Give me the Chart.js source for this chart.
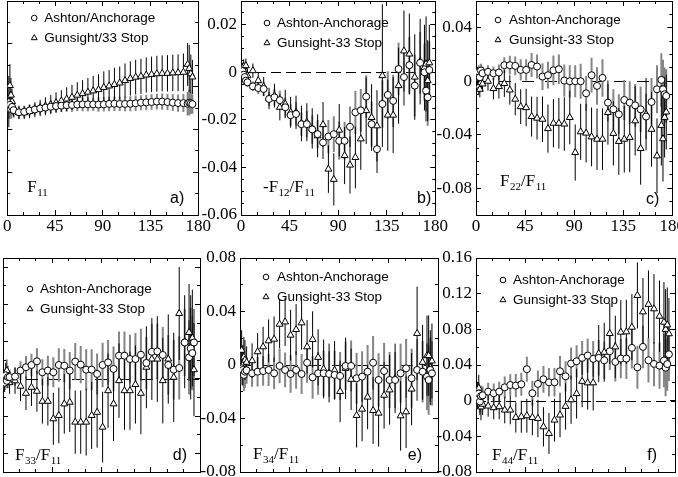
<!DOCTYPE html>
<html>
<head>
<meta charset="utf-8">
<script src="https://cdn.jsdelivr.net/npm/chart.js@4.4.1/dist/chart.umd.min.js"></script>
<style>
  html, body { margin: 0; padding: 0; background: #fff; }
  body { position: relative; width: 678px; height: 477px; overflow: hidden; }
  canvas { position: absolute; }
</style>
</head>
<body>
<script>
// scattering angles (deg), same for every panel
const angles = [1.5, 2.5, 3.5, 4.5,
  6, 11, 16, 21, 26, 31, 36, 41, 46, 51, 56, 61, 66, 71, 76, 81, 86, 91, 96, 101,
  106, 111, 116, 121, 126, 131, 136, 141, 146, 151, 156, 161, 166,
  170, 171.5, 173, 174.5];

const xTicks = [0, 45, 90, 135, 180];
const xMinor = [15, 30, 60, 75, 105, 120, 150, 165];

const namesA = ['Ashton/Anchorage', 'Gunsight/33 Stop'];
const namesB = ['Ashton-Anchorage', 'Gunsight-33 Stop'];

// a) F11 (relative units, axis not labelled)
const aAsh = [5.0, 5.15, 4.95, 5.05,
  4.9, 4.8, 4.82, 4.88, 4.93, 4.98, 5.02, 5.06, 5.09, 5.11, 5.13, 5.14, 5.16, 5.17, 5.17, 5.17, 5.16,
  5.17, 5.19, 5.2, 5.19, 5.19, 5.2, 5.22, 5.25, 5.26, 5.28, 5.3, 5.3, 5.28, 5.25, 5.23, 5.23,
  5.2, 5.25, 5.22, 5.18];
const aAshErr = [0.5, 0.6, 0.45, 0.4,
  0.35, 0.3, 0.28, 0.27, 0.27, 0.28, 0.28, 0.29, 0.28, 0.3, 0.3, 0.31, 0.3, 0.32, 0.32, 0.31, 0.33,
  0.33, 0.34, 0.34, 0.33, 0.34, 0.35, 0.36, 0.35, 0.36, 0.36, 0.37, 0.38, 0.38, 0.39, 0.4, 0.42,
  0.55, 0.6, 0.5, 0.45];
const aGun = [5.3, 6.05, 5.6, 5.3,
  5.0, 4.78, 4.78, 4.84, 4.92, 5.0, 5.08, 5.16, 5.25, 5.33, 5.42, 5.5, 5.6, 5.67, 5.74, 5.8, 5.86,
  5.96, 6.03, 6.1, 6.17, 6.28, 6.38, 6.44, 6.48, 6.54, 6.57, 6.6, 6.62, 6.62, 6.64, 6.65, 6.67,
  7.04, 6.85, 6.6, 6.45];
const aGunErr = [1.2, 1.0, 0.8, 0.6,
  0.4, 0.3, 0.3, 0.32, 0.35, 0.38, 0.42, 0.45, 0.48, 0.5, 0.55, 0.58, 0.6, 0.63, 0.66, 0.7, 0.72,
  0.75, 0.74, 0.78, 0.77, 0.8, 0.8, 0.81, 0.82, 0.82, 0.83, 0.84, 0.84, 0.85, 0.85, 0.86, 0.88,
  1.0, 1.1, 0.9, 0.8];

// b) -F12/F11
const bAsh = [0.0005, -0.001, -0.002, -0.0035,
  -0.0042, -0.0059, -0.0066, -0.007, -0.0112, -0.0105, -0.0117, -0.0147, -0.018, -0.0175,
  -0.0218, -0.0218, -0.024, -0.026, -0.0295, -0.027, -0.026, -0.0288, -0.0288, -0.0229,
  -0.0168, -0.016, -0.0102, -0.0218, -0.0323, -0.0133, -0.0095, -0.012, 0.0014, -0.002,
  0.003, -0.0056, 0.004,
  0, -0.0077, -0.0105, 0.001];
const bAshErr = [0.002, 0.002, 0.002, 0.002,
  0.002, 0.002, 0.0025, 0.003, 0.003, 0.0035, 0.004, 0.004, 0.0045, 0.005, 0.005, 0.0055,
  0.006, 0.006, 0.007, 0.007, 0.0075, 0.008, 0.008, 0.0085, 0.009, 0.009, 0.009, 0.0095,
  0.01, 0.01, 0.01, 0.011, 0.011, 0.012, 0.012, 0.013, 0.013,
  0.012, 0.013, 0.012, 0.012];
const bGun = [0.001, 0.0025, -0.001, 0.0028,
  -0.0014, 0.0007, -0.0035, -0.006, -0.011, -0.0098, -0.0147, -0.0133, -0.0168, -0.0168,
  -0.0215, -0.021, -0.0236, -0.0267, -0.022, -0.0407, -0.045, -0.0243, -0.035, -0.039,
  -0.0358, -0.028, -0.0161, -0.019, -0.0225, -0.0014, -0.018, -0.018, -0.0056, 0.009,
  0.0077, -0.002, 0.0045,
  0.002, 0.0035, -0.0035, 0.004];
const bGunErr = [0.003, 0.003, 0.003, 0.003,
  0.003, 0.003, 0.0035, 0.004, 0.0045, 0.005, 0.0055, 0.006, 0.0065, 0.007, 0.0075, 0.008,
  0.0085, 0.009, 0.0095, 0.01, 0.011, 0.011, 0.012, 0.012, 0.013, 0.013, 0.014, 0.014,
  0.015, 0.03, 0.015, 0.016, 0.016, 0.017, 0.017, 0.018, 0.018,
  0.018, 0.02, 0.017, 0.016];

// c) F22/F11
const cAsh = [0.005, 0.007, 0.003, 0.008,
  0.006, 0.007, 0.006, 0.0065, 0.012, 0.012, 0.0115, 0.0085, 0.0085, 0.0122,
  0.011, 0.0035, 0.0045, 0.0082, 0.009, 0.0005, 0, 0, 0, -0.009,
  0.0045, -0.0035, 0.0025, -0.016, -0.021, -0.0247, -0.014, -0.016, -0.018, -0.021,
  -0.0264, -0.0155, -0.006,
  0.001, -0.006, -0.0097, -0.011];
const cAshErr = [0.005, 0.005, 0.005, 0.005,
  0.005, 0.005, 0.005, 0.006, 0.006, 0.007, 0.007, 0.008, 0.008, 0.009, 0.009, 0.01,
  0.01, 0.011, 0.011, 0.012, 0.012, 0.012, 0.013, 0.013, 0.013, 0.014, 0.014, 0.014,
  0.015, 0.015, 0.015, 0.016, 0.016, 0.017, 0.017, 0.018, 0.018,
  0.02, 0.022, 0.02, 0.02];
const cGun = [0.0035, -0.0035, -0.006, -0.001,
  -0.002, 0, -0.0055, -0.004, -0.0017, -0.0065, -0.0134, -0.019, -0.0197, -0.0264,
  -0.0276, -0.0284, -0.0354, -0.0314, -0.0314, -0.032, -0.0271, -0.0533, -0.0378, -0.0388,
  -0.0416, -0.0433, -0.0433, -0.0234, -0.039, -0.045, -0.0433, -0.042, -0.0296, -0.0503,
  -0.0246, -0.0359, -0.0558,
  -0.033, -0.043, -0.027, -0.023];
const cGunErr = [0.006, 0.006, 0.006, 0.006,
  0.006, 0.007, 0.008, 0.009, 0.01, 0.011, 0.012, 0.013, 0.014, 0.015, 0.016, 0.017,
  0.018, 0.018, 0.019, 0.02, 0.02, 0.021, 0.021, 0.022, 0.022, 0.023, 0.023, 0.024,
  0.024, 0.025, 0.025, 0.026, 0.026, 0.027, 0.027, 0.028, 0.028,
  0.03, 0.032, 0.03, 0.028];

// d) F33/F11 (axis not labelled)
const dAsh = [-0.002, 0.002, -0.001, 0.001,
  0.001, 0.0013, 0.0045, 0.0063, 0.0075, 0.0095, 0.0036, 0.0045, 0.0036, 0.0075,
  0.0071, 0.0045, 0.0093, 0.0077, 0.005, 0.005, 0.0027, 0.0075, 0.0089, 0.0054,
  0.0125, 0.0125, 0.0107, 0.0107, 0.013, 0.0086, 0.0146, 0.0148, 0.0129, 0.0075,
  0.005, 0.0059, 0.0196,
  0.0116, 0.0164, 0.0139, 0.0196];
const dAshErr = [0.004, 0.004, 0.004, 0.004,
  0.004, 0.005, 0.005, 0.006, 0.006, 0.007, 0.007, 0.008, 0.008, 0.009, 0.009, 0.01,
  0.01, 0.01, 0.011, 0.011, 0.011, 0.012, 0.012, 0.012, 0.013, 0.013, 0.013, 0.014,
  0.014, 0.014, 0.015, 0.015, 0.015, 0.016, 0.016, 0.017, 0.018,
  0.02, 0.022, 0.02, 0.018];
const dGun = [-0.001, 0.0027, 0.0045, 0.001,
  -0.002, -0.001, -0.0039, -0.0077, -0.0045, -0.0066, -0.012, -0.012, -0.0214, -0.0196,
  -0.0134, -0.0125, -0.0232, -0.0232, -0.0232, -0.0196, -0.0179, -0.0259, -0.0063, -0.0134,
  -0.0009, -0.0063, -0.0063, -0.003, -0.0077, 0.0063, 0.0107, 0.0107, -0.0009, 0.0107,
  0.0009, 0.0352, 0.02,
  0.025, 0.017, 0.022, 0.005];
const dGunErr = [0.006, 0.006, 0.006, 0.006,
  0.006, 0.007, 0.008, 0.009, 0.01, 0.011, 0.012, 0.013, 0.014, 0.015, 0.016, 0.016,
  0.017, 0.017, 0.018, 0.018, 0.019, 0.019, 0.02, 0.02, 0.02, 0.021, 0.021, 0.021,
  0.022, 0.022, 0.022, 0.023, 0.023, 0.024, 0.024, 0.025, 0.025,
  0.026, 0.028, 0.026, 0.025];

// e) F34/F11
const eAsh = [-0.0025, -0.0037, -0.0074, -0.005,
  -0.004, -0.0062, -0.005, -0.0045, -0.0037, -0.0062, -0.0007, -0.0037, -0.0067, -0.0037,
  -0.0067, 0.0017, -0.0092, -0.0062, -0.0062, -0.0067, -0.0074, -0.0082, -0.0007, -0.0007,
  -0.0099, -0.0087, -0.005, 0.0017, -0.0112, -0.0045, -0.0112, -0.0112, -0.0062, -0.0025,
  -0.0099, -0.0037, -0.005,
  -0.0087, -0.0112, -0.0037, -0.0062];
const eAshErr = [0.012, 0.012, 0.012, 0.012,
  0.01, 0.01, 0.011, 0.011, 0.012, 0.012, 0.013, 0.013, 0.014, 0.014, 0.015, 0.015,
  0.016, 0.016, 0.017, 0.017, 0.018, 0.018, 0.018, 0.019, 0.019, 0.019, 0.02, 0.02,
  0.02, 0.021, 0.021, 0.021, 0.022, 0.022, 0.022, 0.023, 0.023,
  0.025, 0.026, 0.024, 0.024];
const eGun = [0.011, 0, 0.006, 0.0037,
  0.002, 0.0032, 0.0099, 0.0136, 0.0181, 0.0193, 0.0305, 0.0322, 0.0223, 0.0265,
  0.0315, 0.0136, 0.0191, 0.0057, -0.003, -0.006, -0.004, -0.0198, -0.0025, -0.0107,
  -0.0377, -0.033, -0.024, -0.034, -0.036, -0.0226, -0.0186, -0.01, -0.038, -0.035,
  -0.018, 0.0236, 0.002,
  0.007, 0.007, -0.002, 0.003];
const eGunErr = [0.015, 0.015, 0.015, 0.015,
  0.012, 0.013, 0.014, 0.015, 0.016, 0.017, 0.018, 0.018, 0.019, 0.019, 0.02, 0.02,
  0.021, 0.021, 0.022, 0.022, 0.022, 0.023, 0.023, 0.023, 0.024, 0.024, 0.024, 0.025,
  0.025, 0.025, 0.026, 0.026, 0.026, 0.027, 0.027, 0.035, 0.028,
  0.03, 0.03, 0.028, 0.028];

// f) F44/F11
const fAsh = [0.0026, 0.008, -0.001, 0.005,
  0.006, 0.0101, 0.0083, 0.0101, 0.015, 0.0176, 0.0169, 0.0184, 0.0353, 0.0083,
  0.0188, 0.024, 0.0206, 0.0206, 0.033, 0.0273, 0.0416, 0.0442, 0.048, 0.0506,
  0.0469, 0.048, 0.0453, 0.0554, 0.0435, 0.0472, 0.0472, 0.0592, 0.0374, 0.0603,
  0.0453, 0.0412, 0.0393,
  0.045, 0.037, 0.041, 0.052];
const fAshErr = [0.012, 0.012, 0.012, 0.012,
  0.01, 0.01, 0.011, 0.011, 0.012, 0.012, 0.013, 0.013, 0.014, 0.014, 0.015, 0.015,
  0.016, 0.016, 0.017, 0.017, 0.018, 0.018, 0.019, 0.019, 0.02, 0.02, 0.021, 0.021,
  0.022, 0.022, 0.023, 0.023, 0.024, 0.024, 0.025, 0.025, 0.026,
  0.03, 0.032, 0.03, 0.03];
const fGun = [0.006, 0.014, -0.001, -0.007,
  -0.004, -0.006, -0.0079, -0.0068, -0.0105, -0.0105, -0.0188, -0.018, -0.0169, -0.0188,
  -0.0199, -0.0293, -0.0368, -0.0218, -0.0161, -0.0064, 0.001, 0.0079, 0.0217, 0.02,
  0.02, 0.0528, 0.0543, 0.0753, 0.0603, 0.0768, 0.0772, 0.0824, 0.118, 0.0996,
  0.108, 0.103, 0.0947,
  0.088, 0.08, 0.085, 0.075];
const fGunErr = [0.015, 0.015, 0.015, 0.015,
  0.012, 0.012, 0.013, 0.014, 0.015, 0.016, 0.017, 0.018, 0.019, 0.02, 0.021, 0.022,
  0.023, 0.024, 0.025, 0.026, 0.027, 0.028, 0.029, 0.03, 0.031, 0.032, 0.033, 0.034,
  0.035, 0.036, 0.036, 0.037, 0.037, 0.038, 0.038, 0.039, 0.04,
  0.045, 0.045, 0.042, 0.04];

// y tick values per panel
const aYTicks = [0, 2, 4, 6, 8, 10],               aYMinor = [1, 3, 5, 7, 9];
const bYTicks = [-0.06, -0.04, -0.02, 0, 0.02],     bYMinor = [-0.055, -0.05, -0.045, -0.035, -0.03, -0.025, -0.015, -0.01, -0.005, 0.005, 0.01, 0.015, 0.025];
const cYTicks = [-0.08, -0.04, 0, 0.04],            cYMinor = [-0.09, -0.07, -0.06, -0.05, -0.03, -0.02, -0.01, 0.01, 0.02, 0.03, 0.05];
const dYTicks = [-0.04, -0.02, 0, 0.02, 0.04, 0.06], dYMinor = [-0.03, -0.01, 0.01, 0.03, 0.05];
const eYTicks = [-0.08, -0.04, 0, 0.04, 0.08],      eYMinor = [-0.06, -0.02, 0.02, 0.06];
const fYTicks = [-0.08, -0.04, 0, 0.04, 0.08, 0.12, 0.16], fYMinor = [-0.06, -0.02, 0.02, 0.06, 0.1, 0.14];

const panels = [
  { left: 3,   top: 1,   w: 198, h: 214, ymin: 0,     ymax: 10,    yt: aYTicks, ym: aYMinor, yLab: false, xLab: true,
    ash: aAsh, ashErr: aAshErr, gun: aGun, gunErr: aGunErr, names: namesA, dash: null,
    title: [['F', 0], ['11', 1]], tag: 'a)', leg: [27, 17, 37], tpos: [20, 191], gpos: [14, 202] },
  { left: 241, top: 1,   w: 197, h: 214, ymin: -0.06, ymax: 0.03,  yt: bYTicks, ym: bYMinor, yLab: true,  xLab: true,
    ash: bAsh, ashErr: bAshErr, gun: bGun, gunErr: bGunErr, names: namesB, dash: [10, 5],
    title: [['-F', 0], ['12', 1], ['/F', 0], ['11', 1]], tag: 'b)', leg: [26, 22, 36], tpos: [22, 191], gpos: [4, 202] },
  { left: 476, top: 1,   w: 199, h: 214, ymin: -0.1,  ymax: 0.06,  yt: cYTicks, ym: cYMinor, yLab: true,  xLab: true,
    ash: cAsh, ashErr: cAshErr, gun: cGun, gunErr: cGunErr, names: namesB, dash: [12, 11],
    title: [['F', 0], ['22', 1], ['/F', 0], ['11', 1]], tag: 'c)', leg: [22, 19, 33], tpos: [24, 185], gpos: [13, 203] },
  { left: 3,   top: 258, w: 197, h: 214, ymin: -0.05, ymax: 0.065, yt: dYTicks, ym: dYMinor, yLab: false, xLab: false,
    ash: dAsh, ashErr: dAshErr, gun: dGun, gunErr: dGunErr, names: namesB, dash: [12, 11],
    title: [['F', 0], ['33', 1], ['/F', 0], ['11', 1]], tag: 'd)', leg: [27, 31, 37], tpos: [12, 202], gpos: [13, 202] },
  { left: 240, top: 258, w: 198, h: 214, ymin: -0.08, ymax: 0.08,  yt: eYTicks, ym: eYMinor, yLab: true,  xLab: false,
    ash: eAsh, ashErr: eAshErr, gun: eGun, gunErr: eGunErr, names: namesB, dash: [12, 11],
    title: [['F', 0], ['34', 1], ['/F', 0], ['11', 1]], tag: 'e)', leg: [26, 19, 37], tpos: [13, 201], gpos: [16, 202] },
  { left: 476, top: 258, w: 199, h: 214, ymin: -0.08, ymax: 0.16,  yt: fYTicks, ym: fYMinor, yLab: true,  xLab: false,
    ash: fAsh, ashErr: fAshErr, gun: fGun, gunErr: fGunErr, names: namesB, dash: [10, 5],
    title: [['F', 0], ['44', 1], ['/F', 0], ['11', 1]], tag: 'f)', leg: [27, 22, 37], tpos: [16, 202], gpos: [18, 202] }
];

const SERIF = '"Liberation Serif", "Times New Roman", serif';
const SANS = '"Liberation Sans", Arial, sans-serif';

function axis(pos, min, max, vals, len, size, weight, labels, border) {
  return {
    type: 'linear', position: pos, min: min, max: max, weight: weight,
    afterBuildTicks: s => { s.ticks = vals.map(v => ({ value: v })); },
    afterFit: s => {
      if (pos === 'top' || pos === 'bottom') s.height = size; else s.width = size;
    },
    grid: { display: true, drawOnChartArea: false, drawTicks: true, tickLength: -len,
            tickColor: '#000', tickWidth: 1 },
    border: { display: border, color: '#000', width: 1 },
    ticks: {
      display: labels, autoSkip: false, maxRotation: 0, minRotation: 0, color: '#000',
      padding: (pos === 'bottom') ? 6 : 9,
      font: { family: SERIF, size: 17 },
      callback: v => String(+Number(v).toFixed(3))
    }
  };
}

function markerPath(ctx, style, x, y, r) {
  ctx.beginPath();
  if (style === 'circle') {
    ctx.arc(x, y, r, 0, Math.PI * 2);
  } else {
    let a = 0;
    ctx.moveTo(x + Math.sin(a) * r, y - Math.cos(a) * r);
    a += Math.PI * 2 / 3;
    ctx.lineTo(x + Math.sin(a) * r, y - Math.cos(a) * r);
    a += Math.PI * 2 / 3;
    ctx.lineTo(x + Math.sin(a) * r, y - Math.cos(a) * r);
    ctx.closePath();
  }
  ctx.fillStyle = '#fff';
  ctx.fill();
  ctx.strokeStyle = '#000';
  ctx.lineWidth = 1;
  ctx.stroke();
}

const decor = {
  id: 'decor',
  beforeDatasetsDraw(chart) {
    const p = chart.options.plugins.decor.panel;
    const { ctx, chartArea: ca } = chart;
    const x = chart.scales.x, y = chart.scales.y;
    ctx.save();
    ctx.beginPath();
    ctx.rect(ca.left, ca.top, ca.right - ca.left, ca.bottom - ca.top);
    ctx.clip();
    if (p.dash) {
      const y0 = Math.round(y.getPixelForValue(0)) + 0.5;
      ctx.setLineDash(p.dash);
      ctx.strokeStyle = '#000';
      ctx.lineWidth = 1;
      ctx.beginPath();
      ctx.moveTo(ca.left, y0);
      ctx.lineTo(ca.right, y0);
      ctx.stroke();
      ctx.setLineDash([]);
    }
    // error bars, drawn under the markers
    chart.data.datasets.forEach(ds => {
      ctx.strokeStyle = ds.errColor;
      ctx.lineWidth = ds.errWidth;
      ctx.beginPath();
      ds.data.forEach((pt, i) => {
        const px = x.getPixelForValue(pt.x);
        ctx.moveTo(px, y.getPixelForValue(pt.y + ds.errs[i]));
        ctx.lineTo(px, y.getPixelForValue(pt.y - ds.errs[i]));
      });
      ctx.stroke();
    });
    ctx.restore();
  },
  afterDatasetsDraw(chart) {
    const p = chart.options.plugins.decor.panel;
    const { ctx, chartArea: ca } = chart;
    ctx.save();
    // legend
    const styles = ['circle', 'triangle'];
    ctx.font = '13.5px ' + SANS;
    ctx.textBaseline = 'middle';
    ctx.textAlign = 'left';
    p.names.forEach((n, i) => {
      const ly = ca.top + p.leg[1] + i * 20;
      markerPath(ctx, styles[i], ca.left + p.leg[0], ly, styles[i] === 'circle' ? 2.8 : 3.4);
      ctx.fillStyle = '#000';
      ctx.fillText(n, ca.left + p.leg[2], ly);
    });
    // panel quantity with subscripts
    ctx.textBaseline = 'alphabetic';
    let tx = ca.left + p.tpos[0];
    const ty = ca.top + p.tpos[1];
    p.title.forEach(([s, sub]) => {
      ctx.font = (sub ? '11px ' : '17px ') + SERIF;
      ctx.fillText(s, tx, ty + (sub ? 4 : 0));
      tx += ctx.measureText(s).width + (sub ? 0 : 0.5);
    });
    // panel letter
    ctx.font = '16px ' + SANS;
    ctx.textAlign = 'right';
    ctx.fillText(p.tag, ca.right - p.gpos[0], ca.top + p.gpos[1]);
    ctx.restore();
  }
};

panels.forEach(p => {
  const padL = p.yLab ? 44 : 6, padR = 16, padT = 24, padB = p.xLab ? 24 : 24;
  const cv = document.createElement('canvas');
  cv.width = p.w + padL + padR;
  cv.height = p.h + padT + padB;
  cv.style.left = (p.left - padL) + 'px';
  cv.style.top = (p.top - padT) + 'px';
  cv.style.width = cv.width + 'px';
  cv.style.height = cv.height + 'px';
  document.body.appendChild(cv);

  const pts = vals => angles.map((a, i) => ({ x: a, y: vals[i] }));

  new Chart(cv, {
    type: 'scatter',
    data: {
      datasets: [
        { label: p.names[0], data: pts(p.ash), errs: p.ashErr, errColor: '#858585', errWidth: 2,
          pointStyle: 'circle', pointRadius: 3.5, borderWidth: 1, borderColor: '#000', backgroundColor: '#fff' },
        { label: p.names[1], data: pts(p.gun), errs: p.gunErr, errColor: '#000', errWidth: 1,
          pointStyle: 'triangle', pointRadius: 4, borderWidth: 1, borderColor: '#000', backgroundColor: '#fff' }
      ]
    },
    options: {
      responsive: false,
      animation: false,
      events: [],
      layout: { padding: { left: p.yLab ? 0 : padL, right: padR, top: padT, bottom: p.xLab ? 0 : padB } },
      scales: {
        x:   axis('bottom', 0, 180, xTicks, 5, p.xLab ? padB : 0, 1, p.xLab, true),
        xm:  axis('bottom', 0, 180, xMinor, 3, 0, 0, false, false),
        xt:  axis('top', 0, 180, xTicks, 5, 0, 0, false, true),
        xtm: axis('top', 0, 180, xMinor, 3, 0, 0, false, false),
        y:   axis('left', p.ymin, p.ymax, p.yt, 5, p.yLab ? padL : 0, 1, p.yLab, true),
        ym:  axis('left', p.ymin, p.ymax, p.ym, 3, 0, 0, false, false),
        yr:  axis('right', p.ymin, p.ymax, p.yt, 5, 0, 0, false, true),
        yrm: axis('right', p.ymin, p.ymax, p.ym, 3, 0, 0, false, false)
      },
      plugins: {
        legend: { display: false },
        tooltip: { enabled: false },
        decor: { panel: p }
      }
    },
    plugins: [decor]
  });
});
</script>
</body>
</html>
